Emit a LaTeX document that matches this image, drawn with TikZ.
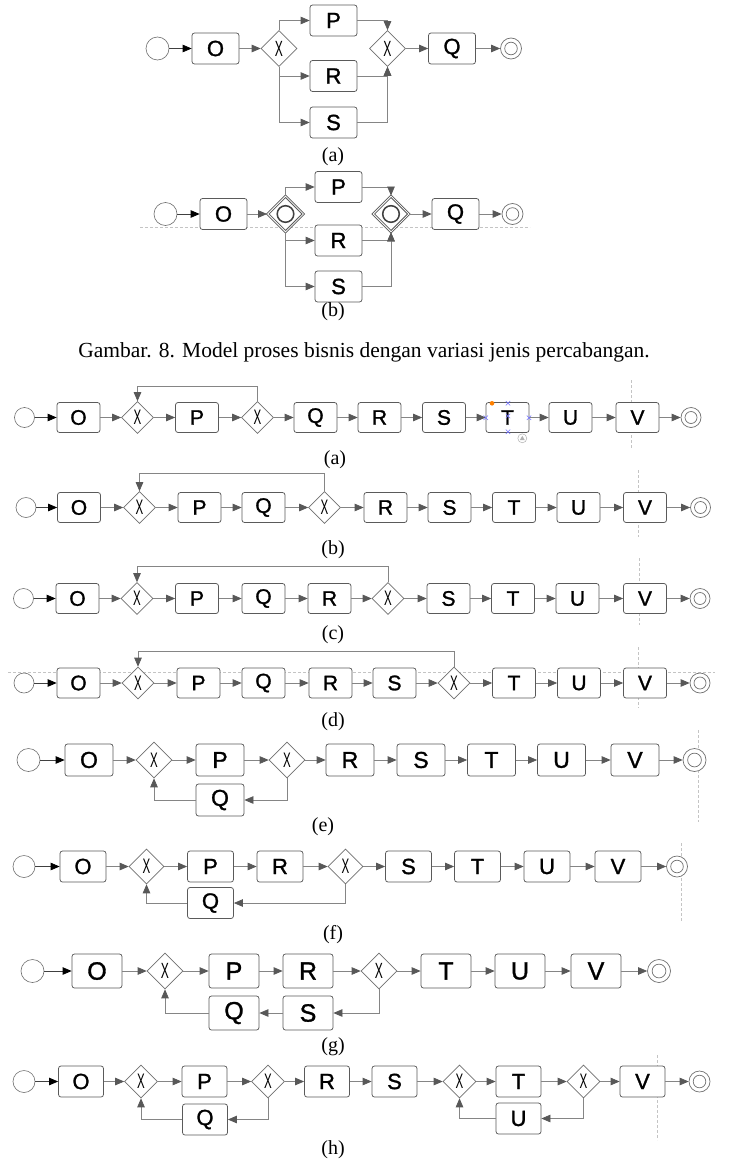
\documentclass[tikz,border=0pt]{standalone}
\usepackage{fontspec}
\usepackage{graphicx}
\setmainfont{Liberation Serif}
\newfontfamily\boxfont[FakeBold=1.3]{Liberation Sans}
\newfontfamily\gwfont{Liberation Sans}
\usetikzlibrary{shapes.geometric,arrows.meta}
\definecolor{boxc}{HTML}{5A5A5A}
\definecolor{linec}{HTML}{858585}
\definecolor{tipc}{HTML}{585858}
\definecolor{gwc}{HTML}{707070}
\definecolor{dashc}{HTML}{C4C4C4}
\def\myBW{43}\def\myBH{30}\def\myGW{32}\def\mySD{20}\def\myED{20}\def\myFS{21}\def\myXS{21}
\newcommand\gwX{\scalebox{0.55}[1]{\gwfont\fontsize{\myXS}{\myXS}\selectfont X}}
\tikzset{
 proc/.style={draw=boxc, line width=0.75pt, rounded corners=2.5pt, fill=white,
   minimum width=\myBW pt, minimum height=\myBH pt, inner sep=0pt,
   font=\boxfont\fontsize{\myFS}{\myFS}\selectfont},
 gw/.style={diamond, draw=gwc, line width=0.6pt, fill=white, minimum width=\myGW pt,
   minimum height=\myGW pt, inner sep=0pt, text=black},
 gwo/.style={diamond, draw=black!65, line width=0.9pt, double=white, double distance=0.8pt, fill=white, minimum width=\myGW pt,
   minimum height=\myGW pt, inner sep=0pt,
   path picture={\draw[black!75, line width=1.5pt] (path picture bounding box.center) circle[radius=8.3pt];}},
 startev/.style={circle, draw=gwc, line width=0.6pt, minimum size=\mySD pt, inner sep=0pt, fill=white},
 endev/.style={circle, draw=gwc, line width=0.7pt, minimum size=\myED pt, inner sep=0pt, fill=white,
   path picture={\draw[gwc, line width=0.7pt] (path picture bounding box.center) circle[radius=0.3*\myED pt];}},
 flow/.style={draw=linec, line width=0.75pt, -{Triangle[length=9pt,width=7.5pt,color=tipc]}},
 sflow/.style={draw=black!75, line width=0.75pt, -{Triangle[length=9pt,width=7.5pt,color=black]}},
 captxt/.style={font=\fontsize{20}{22}\selectfont, inner sep=0pt},
 dashln/.style={draw=dashc, dash pattern=on 3pt off 2pt, line width=0.5pt},
}
\begin{document}
\begin{tikzpicture}[x=1pt,y=-1pt]
\useasboundingbox[fill=white] (0,0) rectangle (728,1164);

% ================= TOP (a) =================
\begin{scope}
\def\myBW{47}\def\myBH{31}\def\myGW{36}\def\mySD{23}\def\myED{21}\def\myFS{22}\def\myXS{22}
\node[startev] (tas) at (157.5,48.5) {};
\node[proc] (taO) at (215.5,48.5) {O};
\node[gw] (tag1) at (279,48.5) {\gwX};
\node[proc] (taP) at (333.5,20.5) {P};
\node[proc] (taR) at (333.5,76) {R};
\node[proc] (taS) at (333.5,122.5) {S};
\node[gw] (tag2) at (387.5,48.5) {\gwX};
\node[proc] (taQ) at (452,48.5) {Q};
\node[endev] (tae) at (511,48.5) {};
\draw[sflow] (tas) -- (taO);
\draw[flow] (taO) -- (tag1);
\draw[flow] (tag1.north) |- (taP);
\draw[flow] (tag1.south) |- (taR);
\draw[flow] (tag1.south) |- (taS);
\draw[flow] (taP) -| (tag2.north);
\draw[flow] (taR) -| (tag2.south);
\draw[flow] (taS) -| (tag2.south);
\draw[flow] (tag2) -- (taQ);
\draw[flow] (taQ) -- (tae);
\node[captxt] (tacap) at (333,157) {(a)};
\end{scope}

% ================= TOP (b) =================
\begin{scope}
\def\myBW{47}\def\myBH{31}\def\myGW{36}\def\mySD{23}\def\myED{21}\def\myFS{22}\def\myXS{22}
\draw[dashln] (140,227) -- (530,227);
\node[startev] (tbs) at (165.5,214) {};
\node[proc] (tbO) at (223.5,214) {O};
\node[gwo] (tbg1) at (285.5,214) {};
\node[proc] (tbP) at (338.5,187) {P};
\node[proc] (tbR) at (338.5,240.5) {R};
\node[proc] (tbS) at (338.5,286.5) {S};
\node[gwo] (tbg2) at (391,214) {};
\node[proc] (tbQ) at (455.5,214) {Q};
\node[endev] (tbe) at (512.5,214) {};
\draw[sflow] (tbs) -- (tbO);
\draw[flow] (tbO) -- (tbg1);
\draw[flow] (tbg1.north) |- (tbP);
\draw[flow] (tbg1.south) |- (tbR);
\draw[flow] (tbg1.south) |- (tbS);
\draw[flow] (tbP) -| (tbg2.north);
\draw[flow] (tbR) -| (tbg2.south);
\draw[flow] (tbS) -| (tbg2.south);
\draw[flow] (tbg2) -- (tbQ);
\draw[flow] (tbQ) -- (tbe);
\node[captxt] (tbcap) at (333,311.5) {(b)};
\end{scope}

\node[captxt, font=\fontsize{21.5}{23}\selectfont] (fig8) at (364,352) {Gambar. 8. Model proses bisnis dengan variasi jenis percabangan.};

% ================= ROW (a) =================
\begin{scope}
\def\ry{417.5}
\draw[dashln] (631,380) -- (631,448);
\node[startev] (ras) at (24.5,\ry) {};
\node[proc] (raO) at (78.5,\ry) {O};
\node[gw] (rag1) at (137.5,\ry) {\gwX};
\node[proc] (raP) at (197,\ry) {P};
\node[gw] (rag2) at (257.5,\ry) {\gwX};
\foreach \n/\x in {Q/315.5,R/379.5,S/444,T/507.5,U/570.5,V/637.5}
  \node[proc] (ra\n) at (\x,\ry) {\n};
\node[endev] (rae) at (691,\ry) {};
\draw[sflow] (ras) -- (raO);
\foreach \a/\b in {O/g1,g1/P,P/g2,g2/Q,Q/R,R/S,S/T,T/U,U/V,V/e}
  \draw[flow] (ra\a) -- (ra\b);
\coordinate (ratop) at (0,386);
\draw[flow] (rag2.north) -- (rag2.north |- ratop) -| (rag1.north);
% selection marks on T
\fill[orange] (492,403.3) circle[radius=2.3pt];
\foreach \p in {(508,403.3),(508,416),(508,431.7),(485.7,417.7),(529,417.7)}
  \draw[blue!55, line width=0.5pt] \p ++(-2.2,-2.2) -- ++(4.4,4.4) ++(-4.4,0) -- ++(4.4,-4.4);
\draw[gray!60, line width=0.5pt] (522.3,438.3) circle[radius=4.5pt];
\fill[gray!60] (519.8,440.2) -- (524.8,440.2) -- (522.3,435.8) -- cycle;
\node[captxt] (racap) at (335,460) {(a)};
\end{scope}

% ================= ROW (b) =================
\begin{scope}
\def\ry{507.5}
\draw[dashln] (638,470) -- (638,537);
\node[startev] (rbs) at (26,\ry) {};
\node[proc] (rbO) at (79,\ry) {O};
\node[gw] (rbg1) at (139.5,\ry) {\gwX};
\node[proc] (rbP) at (199.5,\ry) {P};
\node[proc] (rbQ) at (263.5,\ry) {Q};
\node[gw] (rbg2) at (324.5,\ry) {\gwX};
\foreach \n/\x in {R/385.5,S/449.5,T/514,U/578.5,V/645}
  \node[proc] (rb\n) at (\x,\ry) {\n};
\node[endev] (rbe) at (700.5,\ry) {};
\draw[sflow] (rbs) -- (rbO);
\foreach \a/\b in {O/g1,g1/P,P/Q,Q/g2,g2/R,R/S,S/T,T/U,U/V,V/e}
  \draw[flow] (rb\a) -- (rb\b);
\coordinate (rbtop) at (0,473);
\draw[flow] (rbg2.north) -- (rbg2.north |- rbtop) -| (rbg1.north);
\node[captxt] (rbcap) at (333,550) {(b)};
\end{scope}

% ================= ROW (c) =================
\begin{scope}
\def\ry{598.5}
\draw[dashln] (639,558) -- (639,625);
\node[startev] (rcs) at (23.5,\ry) {};
\node[proc] (rcO) at (77.5,\ry) {O};
\node[gw] (rcg1) at (137,\ry) {\gwX};
\foreach \n/\x in {P/197,Q/263.5,R/329.5}
  \node[proc] (rc\n) at (\x,\ry) {\n};
\node[gw] (rcg2) at (388,\ry) {\gwX};
\foreach \n/\x in {S/448.5,T/513,U/577.5,V/645}
  \node[proc] (rc\n) at (\x,\ry) {\n};
\node[endev] (rce) at (700,\ry) {};
\draw[sflow] (rcs) -- (rcO);
\foreach \a/\b in {O/g1,g1/P,P/Q,Q/R,R/g2,g2/S,S/T,T/U,U/V,V/e}
  \draw[flow] (rc\a) -- (rc\b);
\coordinate (rctop) at (0,566);
\draw[flow] (rcg2.north) -- (rcg2.north |- rctop) -| (rcg1.north);
\node[captxt] (rccap) at (333,635) {(c)};
\end{scope}

% ================= ROW (d) =================
\begin{scope}
\def\ry{683}
\draw[dashln] (8,672) -- (715,672);
\draw[dashln] (638,647) -- (638,708);
\node[startev] (rds) at (24,\ry) {};
\node[proc] (rdO) at (78.5,\ry) {O};
\node[gw] (rdg1) at (138,\ry) {\gwX};
\foreach \n/\x in {P/198.5,Q/263.5,R/330.5,S/394.5}
  \node[proc] (rd\n) at (\x,\ry) {\n};
\node[gw] (rdg2) at (454,\ry) {\gwX};
\foreach \n/\x in {T/514,U/579,V/645}
  \node[proc] (rd\n) at (\x,\ry) {\n};
\node[endev] (rde) at (700,\ry) {};
\draw[sflow] (rds) -- (rdO);
\foreach \a/\b in {O/g1,g1/P,P/Q,Q/R,R/S,S/g2,g2/T,T/U,U/V,V/e}
  \draw[flow] (rd\a) -- (rd\b);
\coordinate (rdtop) at (0,651);
\draw[flow] (rdg2.north) -- (rdg2.north |- rdtop) -| (rdg1.north);
\node[captxt] (rdcap) at (333,722) {(d)};
\end{scope}

% ================= ROW (e) =================
\begin{scope}
\def\myBW{48}\def\myBH{32}\def\myGW{36}\def\mySD{23}\def\myED{23}\def\myFS{23}\def\myXS{21}
\def\ry{760}
\draw[dashln] (698,730) -- (698,822);
\node[startev] (res) at (28.5,\ry) {};
\node[proc] (reO) at (89,\ry) {O};
\node[gw] (reg1) at (154,\ry) {\gwX};
\node[proc] (reP) at (220,\ry) {P};
\node[gw] (reg2) at (287,\ry) {\gwX};
\foreach \n/\x in {R/350,S/421,T/491.5,U/561.5,V/635}
  \node[proc] (re\n) at (\x,\ry) {\n};
\node[endev] (ree) at (694.5,\ry) {};
\node[proc] (reQ) at (220,800) {Q};
\draw[sflow] (res) -- (reO);
\foreach \a/\b in {O/g1,g1/P,P/g2,g2/R,R/S,S/T,T/U,U/V,V/e}
  \draw[flow] (re\a) -- (re\b);
\draw[flow] (reg2.south) |- (reQ);
\draw[flow] (reQ) -| (reg1.south);
\node[captxt] (recap) at (323,827) {(e)};
\end{scope}

% ================= ROW (f) =================
\begin{scope}
\def\myBW{46}\def\myBH{31}\def\myGW{35}\def\mySD{22}\def\myED{21}\def\myFS{22}\def\myXS{21}
\def\ry{866.5}
\draw[dashln] (681,843) -- (681,922);
\node[startev] (rfs) at (24,\ry) {};
\node[proc] (rfO) at (83,\ry) {O};
\node[gw] (rfg1) at (146.5,\ry) {\gwX};
\node[proc] (rfP) at (210.5,\ry) {P};
\node[proc] (rfR) at (280,\ry) {R};
\node[gw] (rfg2) at (345.5,\ry) {\gwX};
\foreach \n/\x in {S/408.5,T/477.5,U/547,V/618}
  \node[proc] (rf\n) at (\x,\ry) {\n};
\node[endev] (rfe) at (677,\ry) {};
\node[proc] (rfQ) at (210.5,903) {Q};
\draw[sflow] (rfs) -- (rfO);
\foreach \a/\b in {O/g1,g1/P,P/R,R/g2,g2/S,S/T,T/U,U/V,V/e}
  \draw[flow] (rf\a) -- (rf\b);
\draw[flow] (rfg2.south) |- (rfQ);
\draw[flow] (rfQ) -| (rfg1.south);
\node[captxt] (rfcap) at (333,935) {(f)};
\end{scope}

% ================= ROW (g) =================
\begin{scope}
\def\myBW{50}\def\myBH{34}\def\myGW{36}\def\mySD{23}\def\myED{23}\def\myFS{25}\def\myXS{22}
\def\ry{971}
\node[startev] (rgs) at (32.5,\ry) {};
\node[proc] (rgO) at (97,\ry) {O};
\node[gw] (rgg1) at (165,\ry) {\gwX};
\node[proc] (rgP) at (234,\ry) {P};
\node[proc] (rgR) at (308,\ry) {R};
\node[gw] (rgg2) at (379,\ry) {\gwX};
\foreach \n/\x in {T/446,U/520,V/596}
  \node[proc] (rg\n) at (\x,\ry) {\n};
\node[endev] (rge) at (659,\ry) {};
\node[proc] (rgQ) at (234,1013) {Q};
\node[proc] (rgS) at (308,1013) {S};
\draw[sflow] (rgs) -- (rgO);
\foreach \a/\b in {O/g1,g1/P,P/R,R/g2,g2/T,T/U,U/V,V/e}
  \draw[flow] (rg\a) -- (rg\b);
\draw[flow] (rgg2.south) |- (rgS);
\draw[flow] (rgS) -- (rgQ);
\draw[flow] (rgQ) -| (rgg1.south);
\node[captxt] (rgcap) at (333,1047) {(g)};
\end{scope}

% ================= ROW (h) =================
\begin{scope}
\def\myBW{45}\def\myBH{31}\def\myGW{33}\def\mySD{22}\def\myED{21}\def\myFS{22}\def\myXS{21}
\def\ry{1081.5}
\draw[dashln] (657,1055) -- (657,1140);
\node[startev] (rhs) at (24,\ry) {};
\node[proc] (rhO) at (81,\ry) {O};
\node[gw] (rhg1) at (141,\ry) {\gwX};
\node[proc] (rhP) at (204.5,\ry) {P};
\node[gw] (rhg2) at (268,\ry) {\gwX};
\node[proc] (rhR) at (327,\ry) {R};
\node[proc] (rhS) at (394.5,\ry) {S};
\node[gw] (rhg3) at (459.5,\ry) {\gwX};
\node[proc] (rhT) at (518.5,\ry) {T};
\node[gw] (rhg4) at (583.5,\ry) {\gwX};
\node[proc] (rhV) at (642.5,\ry) {V};
\node[endev] (rhe) at (699.5,\ry) {};
\node[proc] (rhQ) at (205,1119.5) {Q};
\node[proc] (rhU) at (518.5,1118.5) {U};
\draw[sflow] (rhs) -- (rhO);
\foreach \a/\b in {O/g1,g1/P,P/g2,g2/R,R/S,S/g3,g3/T,T/g4,g4/V,V/e}
  \draw[flow] (rh\a) -- (rh\b);
\draw[flow] (rhg2.south) |- (rhQ);
\draw[flow] (rhQ) -| (rhg1.south);
\draw[flow] (rhg4.south) |- (rhU);
\draw[flow] (rhU) -| (rhg3.south);
\node[captxt] (rhcap) at (333,1150) {(h)};
\end{scope}
\end{tikzpicture}
\end{document}
